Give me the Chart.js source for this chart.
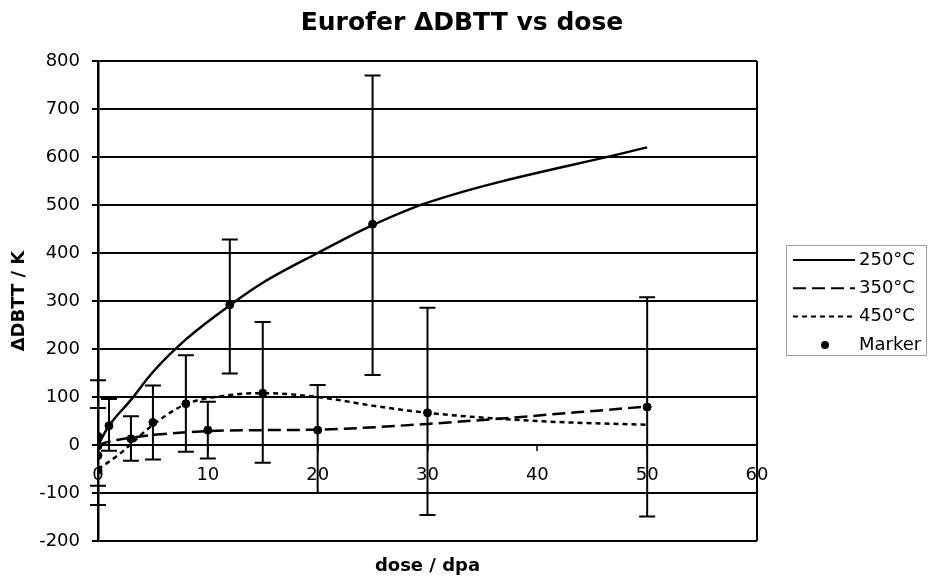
<!DOCTYPE html>
<html lang="en">
<head>
<meta charset="UTF-8">
<title>Eurofer ΔDBTT vs dose</title>
<script src="https://cdn.jsdelivr.net/npm/chart.js"></script>
<style>
    html, body {
        margin: 0;
        padding: 0;
        background-color: #ffffff;
    }
    .chart-box {
        position: relative;
        width: 930px;
        height: 584px;
    }
</style>
</head>
<body>
<div class="chart-box">
    <canvas id="dbttChart"></canvas>
</div>
<script>
// ---- data ----
const chartTitle = "Eurofer \u0394DBTT vs dose";
const xTitle = "dose / dpa";
const yTitle = "\u0394DBTT / K";

const xTickValues = [0, 10, 20, 30, 40, 50, 60];
const yTickValues = [-200, -100, 0, 100, 200, 300, 400, 500, 600, 700, 800];

const seriesNames = ["250\u00B0C", "350\u00B0C", "450\u00B0C", "Marker"];

const dose250 = [0, 1, 3, 5, 8, 12, 15, 20, 25, 30, 50];
const dbtt250 = [0, 40, 94, 152, 220, 291, 338, 400, 458, 505, 620];

const dose350 = [0, 1, 3, 5, 10, 15, 20, 30, 50];
const dbtt350 = [0, 7, 15, 21, 29, 31, 32, 44, 80];

const dose450 = [0, 1, 2, 3, 5, 8, 12, 15, 20, 25, 30, 40, 50];
const dbtt450 = [-50, -35, -18, 2, 42, 85, 104, 108, 100, 82, 67, 50, 42];

const markerDose = [0, 0, 0, 0, 1, 3, 5, 8, 10, 12, 15, 20, 25, 30, 50];
const markerDbtt = [18, -2, -22, -52, 40, 13, 47, 86, 31, 292, 108, 31, 460, 67, 79];
const markerLow  = [-125, -85, null, null, -12, -33, -30, -14, -28, 149, -37, -100, 146, -146, -149];
const markerHigh = [135, 77, null, null, 96, 60, 124, 187, 90, 428, 256, 125, 770, 286, 308];

function toPoints(xs, ys) {
    return xs.map((x, i) => ({ x: x, y: ys[i] }));
}

Chart.defaults.font.family = "'DejaVu Sans', Verdana, sans-serif";
Chart.defaults.color = "#000";

// vertical error bars for the marker series
const errorBars = {
    id: "errorBars",
    beforeDatasetsDraw(chart) {
        const ctx = chart.ctx;
        const xs = chart.scales.x;
        const ys = chart.scales.y;
        ctx.save();
        ctx.strokeStyle = "#000";
        ctx.lineWidth = 2;
        for (let i = 0; i < markerDose.length; i++) {
            if (markerLow[i] === null) continue;
            const px = xs.getPixelForValue(markerDose[i]);
            const top = ys.getPixelForValue(markerHigh[i]);
            const bot = ys.getPixelForValue(markerLow[i]);
            ctx.beginPath();
            ctx.moveTo(px, top);
            ctx.lineTo(px, bot);
            ctx.moveTo(px - 8, top);
            ctx.lineTo(px + 8, top);
            ctx.moveTo(px - 8, bot);
            ctx.lineTo(px + 8, bot);
            ctx.stroke();
        }
        ctx.restore();
    }
};

// titles and the boxed legend on the right
const chartText = {
    id: "chartText",
    afterDraw(chart) {
        const ctx = chart.ctx;
        const area = chart.chartArea;
        ctx.save();
        ctx.fillStyle = "#000";
        ctx.textAlign = "center";
        ctx.textBaseline = "middle";
        ctx.font = "bold 25px 'DejaVu Sans', Verdana, sans-serif";
        ctx.fillText(chartTitle, 462, 23);
        ctx.font = "bold 18px 'DejaVu Sans', Verdana, sans-serif";
        ctx.fillText(xTitle, (area.left + area.right) / 2, 566);

        // legend
        const lx = 786.5, ly = 245.5, lw = 140, lh = 110;
        ctx.strokeStyle = "#a0a0a0";
        ctx.lineWidth = 1;
        ctx.strokeRect(lx, ly, lw, lh);
        ctx.font = "18px 'DejaVu Sans', Verdana, sans-serif";
        ctx.textAlign = "left";
        chart.data.datasets.forEach((ds, i) => {
            const rowY = 260 + i * 28.3;
            ctx.strokeStyle = "#000";
            ctx.fillStyle = "#000";
            if (ds.showLine) {
                ctx.lineWidth = 2;
                ctx.setLineDash(ds.borderDash || []);
                ctx.beginPath();
                ctx.moveTo(793, rowY);
                ctx.lineTo(855, rowY);
                ctx.stroke();
                ctx.setLineDash([]);
            } else {
                ctx.beginPath();
                ctx.arc(825, rowY, 4, 0, Math.PI * 2);
                ctx.fill();
            }
            ctx.fillText(ds.label, 859, rowY);
        });
        ctx.restore();
    }
};

const ctx = document.getElementById("dbttChart").getContext("2d");
new Chart(ctx, {
    type: "scatter",
    data: {
        datasets: [
            {
                label: seriesNames[0],
                data: toPoints(dose250, dbtt250),
                showLine: true,
                borderColor: "#000",
                borderWidth: 2.5,
                borderDash: [],
                cubicInterpolationMode: "monotone",
                pointRadius: 0,
                order: 1
            },
            {
                label: seriesNames[1],
                data: toPoints(dose350, dbtt350),
                showLine: true,
                borderColor: "#000",
                borderWidth: 2.5,
                borderDash: [13, 6],
                cubicInterpolationMode: "monotone",
                pointRadius: 0,
                order: 1
            },
            {
                label: seriesNames[2],
                data: toPoints(dose450, dbtt450),
                showLine: true,
                borderColor: "#000",
                borderWidth: 2.5,
                borderDash: [5, 4],
                cubicInterpolationMode: "monotone",
                pointRadius: 0,
                order: 1
            },
            {
                label: seriesNames[3],
                data: toPoints(markerDose, markerDbtt),
                showLine: false,
                pointStyle: "circle",
                pointRadius: 4,
                pointBackgroundColor: "#000",
                pointBorderColor: "#000",
                order: 0
            }
        ]
    },
    options: {
        responsive: true,
        maintainAspectRatio: false,
        animation: false,
        devicePixelRatio: 1,
        layout: {
            padding: { top: 61, right: 173, bottom: 43, left: 0 }
        },
        plugins: {
            legend: { display: false },
            title: { display: false },
            tooltip: { enabled: false }
        },
        scales: {
            x: {
                type: "linear",
                position: { y: 0 },
                min: xTickValues[0],
                max: xTickValues[xTickValues.length - 1],
                afterBuildTicks: s => { s.ticks = xTickValues.map(v => ({ value: v })); },
                grid: {
                    color: c => (c.tick && c.tick.value === 60 ? "#000" : "rgba(0,0,0,0)"),
                    lineWidth: 2,
                    drawTicks: true,
                    tickLength: 5,
                    tickColor: "#000",
                    tickWidth: 1.5
                },
                border: { display: true, color: "#000", width: 2 },
                ticks: {
                    font: { size: 18 },
                    padding: 15,
                    maxRotation: 0,
                    autoSkip: false
                }
            },
            y: {
                type: "linear",
                position: "left",
                min: yTickValues[0],
                max: yTickValues[yTickValues.length - 1],
                afterBuildTicks: s => { s.ticks = yTickValues.map(v => ({ value: v })); },
                afterFit: s => { s.width = 98; },
                grid: {
                    color: "#000",
                    lineWidth: 2,
                    drawTicks: true,
                    tickLength: 6
                },
                border: { display: true, color: "#000", width: 2.5 },
                ticks: {
                    font: { size: 18 },
                    padding: 12
                },
                title: {
                    display: true,
                    text: yTitle,
                    font: { size: 18, weight: "bold" },
                    padding: { top: 9, bottom: 0 }
                }
            }
        }
    },
    plugins: [errorBars, chartText]
});
</script>
</body>
</html>
